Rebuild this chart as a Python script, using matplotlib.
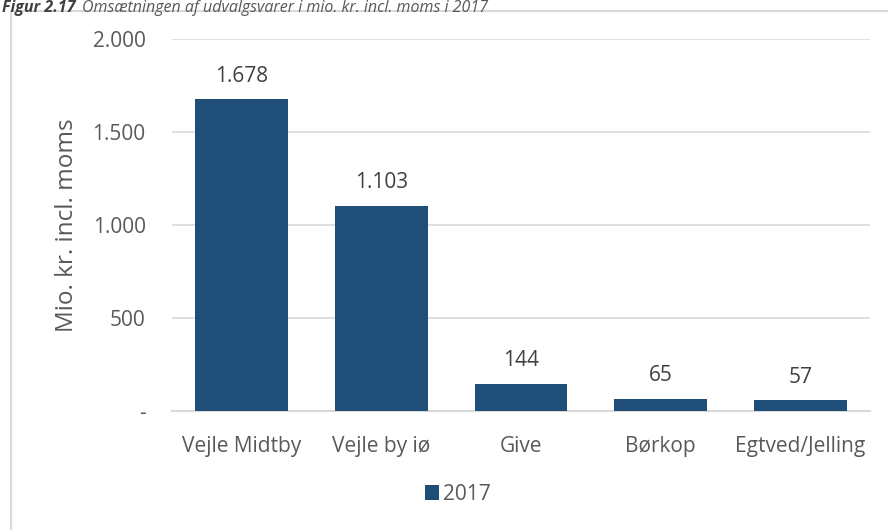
import matplotlib.pyplot as plt
import matplotlib as mpl
from matplotlib.patches import Rectangle
from matplotlib.ticker import FuncFormatter

mpl.rcParams.update({
    'font.family': 'Open Sans',
    'font.size': 15,
})

categories = ['Vejle Midtby', 'Vejle by iø', 'Give', 'Børkop', 'Egtved/Jelling']
values_2017 = [1678, 1103, 144, 65, 57]
yticks = [0, 500, 1000, 1500, 2000]

bar_color = '#1F4E79'
text_color = '#595959'
grid_color = '#D9D9D9'

def dk_fmt(v, pos=None):
    if v == 0:
        return '-'
    return '{:,.0f}'.format(v).replace(',', '.')

fig = plt.figure(figsize=[8.88, 5.30], dpi=100)

# chart frame
fig.patches.append(Rectangle((11/888, -0.01), 0.999, 1 - 11/530 + 0.01,
                             transform=fig.transFigure, fill=False,
                             edgecolor=grid_color, linewidth=1.5))

# caption at very top
fig.text(2/888, 1.0, 'Figur 2.17', fontsize=11.5, fontstyle='italic',
         fontweight='bold', color='#404040', va='top', ha='left')
fig.text(82/888, 1.0, 'Omsætningen af udvalgsvarer i mio. kr. incl. moms i 2017',
         fontsize=11.5, fontstyle='italic', color='#595959', va='top', ha='left')

ax = fig.add_axes([172/888, 1 - 410.7/530, 698/888, (410.7 - 39.3)/530])
x = range(len(categories))
bars = ax.bar(x, values_2017, width=0.665, color=bar_color, label='2017', zorder=3)

for xi, v in zip(x, values_2017):
    ax.annotate(dk_fmt(v), (xi, v), xytext=(0, 9), textcoords='offset points',
                ha='center', va='bottom', color='#404040', fontsize=15)

ax.set_ylim(0, 2000)
ax.set_xlim(-0.5, len(categories) - 0.5)
ax.set_yticks(yticks)
ax.yaxis.set_major_formatter(FuncFormatter(dk_fmt))
ax.set_xticks(list(x))
ax.set_xticklabels(categories)
ax.tick_params(axis='both', length=0, colors=text_color, labelsize=15)
ax.tick_params(axis='x', pad=18)
ax.tick_params(axis='y', pad=19)
ax.grid(axis='y', color=grid_color, linewidth=1.2, zorder=0)
for s in ['top', 'right', 'left']:
    ax.spines[s].set_visible(False)
ax.spines['bottom'].set_color(grid_color)
ax.spines['bottom'].set_linewidth(1.5)

ax.set_ylabel('Mio. kr. incl. moms', color=text_color, fontsize=17.5, labelpad=10)

ax.legend(loc='center', bbox_to_anchor=(458/888, 1 - 494/530), bbox_transform=fig.transFigure,
          frameon=False, handlelength=0.7, handleheight=0.7, handletextpad=0.2,
          labelcolor=text_color, fontsize=15)

fig.savefig('out.png', dpi=100)
